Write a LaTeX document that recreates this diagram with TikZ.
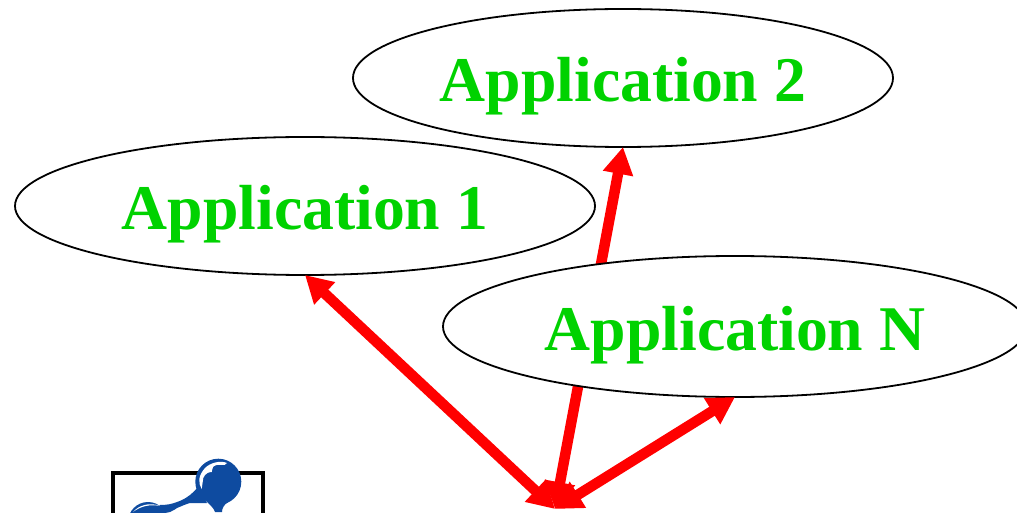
\documentclass[tikz,border=0pt]{standalone}
\usepackage{fontspec}
\setmainfont{Liberation Serif}
\usetikzlibrary{arrows.meta,shapes.geometric}
\definecolor{appgreen}{RGB}{0,210,0}
\definecolor{logoblue}{RGB}{14,75,160}
\tikzset{
  appnode/.style={ellipse,draw=black,fill=white,line width=1.8pt,inner sep=0pt,outer sep=0pt,
    text=appgreen,font=\fontsize{63.7}{64}\selectfont\bfseries,text depth=0pt,text height=47.5pt},
  link/.style={draw=red,line width=10.5pt,{Triangle[length=27pt,width=29pt]}-{Triangle[length=27pt,width=29pt]}}
}
\begin{document}
\begin{tikzpicture}[x=1pt,y=1pt]
\useasboundingbox (0,0) rectangle (1017,512);
\clip (0,0) rectangle (1017,512);
\coordinate (hub) at (555,3);
% logo
\draw[black,line width=3.2pt] (113,-30) rectangle (263,39);
\fill[logoblue] (218.3,30.3) circle (23);
\fill[logoblue] (148,-10) circle (20);
\fill[logoblue] (197,24) .. controls (194,20) and (192,19) .. (190,17) .. controls (185,13) and (180,11) .. (177,10)
  .. controls (172,8) and (167,7) .. (160,7) -- (150,-4) -- (170,0) .. controls (174,2) and (176,3) .. (177,4)
  .. controls (182,6) and (186,8) .. (190,9) -- (207,9) -- cycle;
\fill[logoblue] (205,12) .. controls (209,8) and (214,4) .. (215,0) -- (222,0) .. controls (222,4) and (224,7) .. (228,10) -- cycle;
\fill[white] (201.7,23) .. controls (198,29) and (198,36) .. (205,44) .. controls (210,49) and (220,52) .. (227,49)
  .. controls (226,47) and (224,47) .. (221.7,47) .. controls (217,48) and (214,46) .. (213,45)
  .. controls (212,42) and (212,41) .. (211.7,40) .. controls (208,40) and (206,38) .. (205,37)
  .. controls (203,35) and (203,33) .. (202.7,30) -- cycle;
\fill[white] (133,0) .. controls (139,7) and (150,10) .. (160,6) .. controls (150,8) and (141,6) .. (133,0) -- cycle;
% applications
\node[appnode,minimum width=540pt,minimum height=138pt] (app2) at (623,434) {Application 2};
\node[appnode,minimum width=580pt,minimum height=138pt] (app1) at (305,306) {Application 1};
\draw[link] (hub) -- (app2.south);
\node[appnode,minimum width=584pt,minimum height=141pt] (appN) at (735,185.5) {Application N};
\draw[link] (hub) -- (app1.south);
\draw[link] (hub) -- (appN.south);
\end{tikzpicture}
\end{document}
